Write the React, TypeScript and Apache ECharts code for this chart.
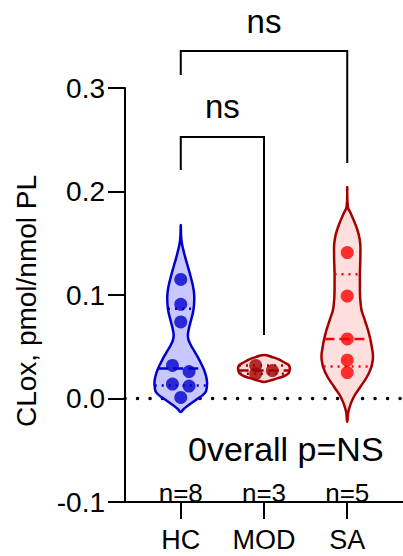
import React, { useEffect, useRef } from 'react';
import * as echarts from 'echarts';

// ---------- data ----------
const categories = ['HC', 'MOD', 'SA'];
const yTicks = [-0.1, 0.0, 0.1, 0.2, 0.3];

const hcValues = [0.115, 0.091, 0.074, 0.032, 0.026, 0.014, 0.012, 0.001];
const modValues = [0.032, 0.027, 0.024];
const saValues = [0.141, 0.099, 0.0575, 0.037, 0.025];

// horizontal jitter of the dots (category units)
const hcJitter = [0, 0, 0, -0.1, 0.1, -0.1, 0.1, 0];
const modJitter = [-0.1, 0.1, -0.1];
const saJitter = [0, 0, 0, 0, 0];

// violin density profiles: [value, half-width in category units]
const hcProfile = [
  [0.1676, 0], [0.1531, 0.008], [0.1406, 0.04], [0.129, 0.08], [0.1174, 0.12],
  [0.1048, 0.155], [0.0952, 0.162], [0.0855, 0.152], [0.0758, 0.124], [0.0662, 0.094],
  [0.0585, 0.088], [0.0517, 0.12], [0.0449, 0.17], [0.0343, 0.241], [0.0256, 0.289],
  [0.0179, 0.313], [0.0111, 0.313], [0.0053, 0.289], [-0.0014, 0.181], [-0.0063, 0.096],
  [-0.0101, 0.036], [-0.013, 0],
];
const modProfile = [
  [0.042, 0], [0.04, 0.1], [0.038, 0.17], [0.035, 0.24], [0.032, 0.3], [0.028, 0.31],
  [0.024, 0.29], [0.021, 0.22], [0.019, 0.14], [0.017, 0.06], [0.016, 0],
];
const saProfile = [
  [0.2043, 0], [0.185, 0.008], [0.1792, 0.04], [0.1657, 0.11], [0.1531, 0.151],
  [0.1406, 0.158], [0.1145, 0.152], [0.0884, 0.165], [0.0758, 0.211], [0.0633, 0.259],
  [0.0498, 0.295], [0.0372, 0.307], [0.0246, 0.261], [0.0111, 0.157], [0.0014, 0.078],
  [-0.0111, 0.018], [-0.0227, 0],
];

// significance brackets: [fromCat, toCat, topValue, leftLegEnd, rightLegEnd]
const brackets = [
  [0, 1, 0.2527, 0.2208, 0.0614],
  [0, 2, 0.3357, 0.3126, 0.2275],
];
const bracketLabels = ['ns', 'ns'];
const overallText = '0verall p=NS';
const yTitle = 'CLox, pmol/nmol PL';

// ---------- styles ----------
const FONT = '"Liberation Sans", Arial, Helvetica, sans-serif';
const groups = [
  { values: hcValues, jitter: hcJitter, profile: hcProfile, fill: '#c8c8ff', stroke: '#0000cc', line: '#0000cc', dot: '#0000cc' },
  { values: modValues, jitter: modJitter, profile: modProfile, fill: '#ffdcdc', stroke: '#a00000', line: '#a00000', dot: '#a00000' },
  { values: saValues, jitter: saJitter, profile: saProfile, fill: '#ffdede', stroke: '#a50000', line: '#ff0000', dot: '#ff0000' },
];

const X_MIN = -0.67;
const X_MAX = 2.67;

function quantile(vals: number[], p: number) {
  const s = vals.slice().sort((a, b) => a - b);
  const n = s.length;
  let pos = p * (n + 1);
  if (pos < 1) pos = 1;
  if (pos > n) pos = n;
  const lo = Math.floor(pos);
  const frac = pos - lo;
  if (lo >= n) return s[n - 1];
  return s[lo - 1] + frac * (s[lo] - s[lo - 1]);
}

function widthAt(profile: number[][], v: number) {
  for (let i = 0; i < profile.length - 1; i++) {
    const [v0, w0] = profile[i];
    const [v1, w1] = profile[i + 1];
    if ((v <= v0 && v >= v1) || (v >= v0 && v <= v1)) {
      const t = v1 === v0 ? 0 : (v - v0) / (v1 - v0);
      return w0 + t * (w1 - w0);
    }
  }
  return 0;
}

export default function App() {
  const ref = useRef<HTMLDivElement>(null);
  useEffect(() => {
    if (!ref.current) return;
    const chart = echarts.init(ref.current, null, { renderer: 'svg' });

    const violinSeries = {
      type: 'custom',
      z: 2,
      clip: false,
      data: groups.map((_, i) => [i]),
      renderItem: (params: any, api: any) => {
        const g = groups[params.dataIndex];
        const x = api.value(0);
        const right = g.profile.map(([v, w]) => api.coord([x + w, v]));
        const left = g.profile
          .slice(1, -1)
          .reverse()
          .map(([v, w]) => api.coord([x - w, v]));
        const stats = [
          { v: quantile(g.values, 0.25), dash: [2, 5] },
          { v: quantile(g.values, 0.5), dash: [10, 5] },
          { v: quantile(g.values, 0.75), dash: [2, 5] },
        ];
        const lines = stats.map((s) => {
          const w = widthAt(g.profile, s.v);
          const a = api.coord([x - w, s.v]);
          const b = api.coord([x + w, s.v]);
          return {
            type: 'line',
            shape: { x1: a[0], y1: a[1], x2: b[0], y2: b[1] },
            style: { stroke: g.line, lineWidth: 2.5, lineDash: s.dash },
          };
        });
        return {
          type: 'group',
          children: [
            {
              type: 'polygon',
              shape: { points: right.concat(left), smooth: 0.5 },
              style: { fill: g.fill, stroke: g.stroke, lineWidth: 2.5 },
            },
            ...lines,
          ],
        };
      },
    };

    const dotSeries = groups.map((g, gi) => ({
      type: 'scatter',
      z: 4,
      symbol: 'circle',
      symbolSize: 13,
      itemStyle: { color: g.dot },
      data: g.values.map((v, i) => [gi + g.jitter[i], v]),
    }));

    const nSeries = {
      type: 'custom',
      z: 5,
      clip: false,
      data: groups.map((_, i) => [i, yTicks[0]]),
      renderItem: (params: any, api: any) => {
        const p = api.coord([api.value(0), api.value(1)]);
        return {
          type: 'text',
          x: p[0],
          y: p[1] - 9,
          style: {
            text: 'n=' + groups[params.dataIndex].values.length,
            fontSize: 26,
            fontFamily: FONT,
            fill: '#000',
            align: 'center',
            verticalAlign: 'middle',
          },
        };
      },
    };

    const bracketSeries = {
      type: 'custom',
      z: 5,
      clip: false,
      data: brackets,
      renderItem: (params: any, api: any) => {
        const x1 = api.value(0), x2 = api.value(1), top = api.value(2);
        const yl = api.value(3), yr = api.value(4);
        const p1 = api.coord([x1, yl]);
        const p2 = api.coord([x1, top]);
        const p3 = api.coord([x2, top]);
        const p4 = api.coord([x2, yr]);
        return {
          type: 'group',
          children: [
            {
              type: 'polyline',
              shape: { points: [p1, p2, p3, p4] },
              style: { stroke: '#000', lineWidth: 2, fill: 'none' },
            },
            {
              type: 'text',
              x: (p2[0] + p3[0]) / 2,
              y: p2[1] - 30,
              style: {
                text: bracketLabels[params.dataIndex],
                fontSize: 33,
                fontFamily: FONT,
                fill: '#000',
                align: 'center',
                verticalAlign: 'middle',
              },
            },
          ],
        };
      },
    };

    const option: any = {
      animation: false,
      grid: { left: 125, right: 0, top: 88, bottom: 54 },
      xAxis: {
        type: 'value',
        min: X_MIN,
        max: X_MAX,
        splitLine: { show: false },
        axisLine: { onZero: false, lineStyle: { color: '#000', width: 2 } },
        axisTick: {
          show: true,
          customValues: [0, 1, 2],
          length: 17,
          lineStyle: { color: '#000', width: 2 },
        },
        axisLabel: {
          customValues: [0, 1, 2],
          formatter: (v: number) => categories[Math.round(v)] ?? '',
          fontSize: 27,
          fontFamily: FONT,
          color: '#000',
          margin: 24,
        },
      },
      yAxis: {
        type: 'value',
        min: yTicks[0],
        max: yTicks[yTicks.length - 1],
        interval: 0.1,
        splitLine: { show: false },
        axisLine: { show: true, onZero: false, lineStyle: { color: '#000', width: 2 } },
        axisTick: { show: true, length: 17, lineStyle: { color: '#000', width: 2 } },
        axisLabel: {
          formatter: (v: number) => v.toFixed(1),
          fontSize: 28,
          fontFamily: FONT,
          color: '#000',
          margin: 20,
        },
      },
      graphic: [
        {
          type: 'text',
          x: 26,
          y: 301,
          rotation: Math.PI / 2,
          style: {
            text: yTitle,
            fontSize: 28,
            fontFamily: FONT,
            fill: '#000',
            align: 'center',
            verticalAlign: 'middle',
          },
        },
        {
          type: 'text',
          x: 188,
          y: 449,
          z: 100,
          style: {
            text: overallText,
            fontSize: 34,
            fontFamily: FONT,
            fill: '#000',
            align: 'left',
            verticalAlign: 'middle',
          },
        },
      ],
      series: [
        {
          type: 'line',
          z: 1,
          symbol: 'none',
          silent: true,
          data: [[X_MIN, 0], [X_MAX, 0]],
          lineStyle: { color: '#000', width: 3.5, type: [0.1, 12.4], cap: 'round' },
        },
        violinSeries,
        ...dotSeries,
        nSeries,
        bracketSeries,
      ],
    };
    chart.setOption(option);
    return () => chart.dispose();
  }, []);
  return (
    <div
      ref={ref}
      style={{ position: 'fixed', left: 0, top: 0, width: 403, height: 556, background: '#fff' }}
    />
  );
}
